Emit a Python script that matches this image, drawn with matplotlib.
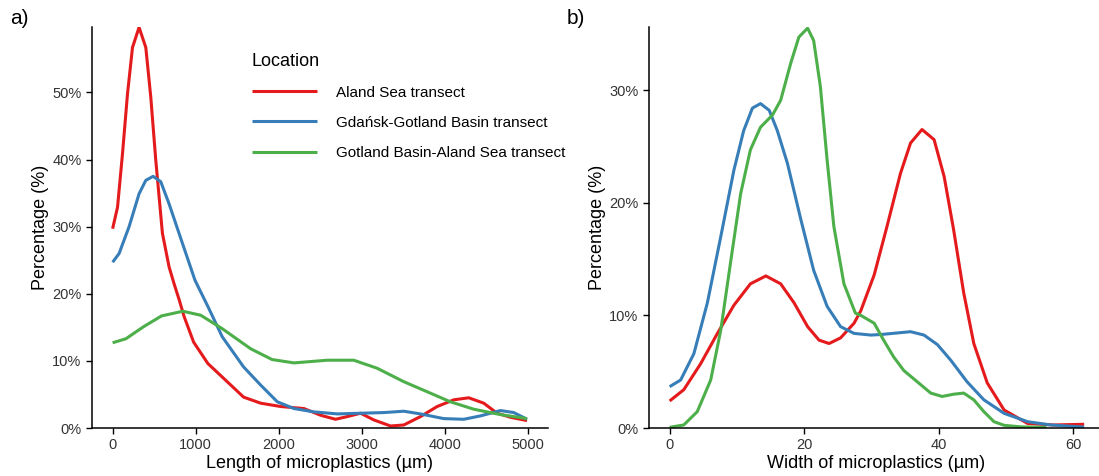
import matplotlib.pyplot as plt
from matplotlib.ticker import FuncFormatter

plt.rcParams['font.family'] = ['Liberation Sans', 'DejaVu Sans']

locations = ['Aland Sea transect', 'Gdańsk-Gotland Basin transect',
             'Gotland Basin-Aland Sea transect']
colors = ['#E41A1C', '#377EB8', '#4DAF4A']

# panel a) length (um) vs percentage
len_aland_x = [0, 59, 119, 179, 239, 318, 399, 459, 519, 599, 679, 739, 803, 860,
               974, 1146, 1318, 1575, 1780, 2021, 2301, 2501, 2681, 2822, 2982,
               3142, 3342, 3502, 3702, 3903, 4103, 4283, 4463, 4624, 4784, 4984]
len_aland_y = [29.7, 32.9, 40.9, 49.8, 56.7, 59.7, 56.7, 49.3, 39.9, 29.0, 24.0,
               21.5, 19.0, 16.6, 12.8, 9.6, 7.6, 4.6, 3.7, 3.2, 2.9, 1.9, 1.3, 1.7,
               2.2, 1.2, 0.3, 0.45, 1.7, 3.2, 4.2, 4.5, 3.7, 2.2, 1.6, 1.1]
len_gdansk_x = [0, 78, 198, 318, 399, 487, 579, 679, 799, 991, 1146, 1318, 1575,
                1780, 1981, 2181, 2421, 2702, 2982, 3262, 3502, 3702, 3982, 4223,
                4423, 4664, 4824, 4984]
len_gdansk_y = [24.7, 26.0, 30.0, 34.9, 36.9, 37.5, 36.7, 33.4, 29.0, 22.0, 18.1,
                13.6, 9.1, 6.4, 3.9, 2.9, 2.4, 2.1, 2.2, 2.3, 2.5, 2.1, 1.4, 1.3,
                1.8, 2.6, 2.3, 1.3]
len_gotland_x = [0, 160, 373, 588, 845, 1060, 1318, 1661, 1918, 2181, 2582, 2900,
                 3182, 3502, 3783, 4063, 4343, 4664, 4984]
len_gotland_y = [12.7, 13.3, 15.1, 16.7, 17.4, 16.8, 14.8, 11.8, 10.2, 9.7, 10.1,
                 10.1, 8.9, 6.9, 5.4, 3.9, 2.8, 2.0, 1.4]

# panel b) width (um) vs percentage
wid_aland_x = [0, 2.1, 4.6, 7.1, 9.55, 12.0, 14.3, 16.5, 18.5, 20.5, 22.2, 23.7,
               25.4, 27.4, 28.4, 30.4, 32.3, 34.3, 35.8, 37.5, 39.3, 40.8, 42.2,
               43.7, 45.2, 47.2, 49.7, 53.2, 57.1, 61.6]
wid_aland_y = [2.4, 3.4, 5.7, 8.4, 10.9, 12.8, 13.5, 12.8, 11.1, 9.0, 7.8, 7.5,
               8.0, 9.3, 10.4, 13.6, 17.9, 22.6, 25.3, 26.5, 25.6, 22.3, 17.6,
               12.0, 7.5, 4.0, 1.6, 0.4, 0.27, 0.33]
wid_gdansk_x = [0, 1.63, 3.6, 5.6, 7.6, 9.55, 11.0, 12.3, 13.5, 14.8, 16.0, 17.5,
                19.5, 21.4, 23.4, 25.4, 27.4, 29.9, 31.4, 35.8, 37.8, 39.8, 41.8,
                44.2, 46.7, 49.7, 53.2, 56.6, 61.6]
wid_gdansk_y = [3.67, 4.26, 6.6, 11.1, 17.0, 22.9, 26.4, 28.4, 28.8, 28.2, 26.4,
                23.5, 18.5, 14.0, 10.8, 9.0, 8.4, 8.25, 8.3, 8.55, 8.25, 7.4, 6.0,
                4.1, 2.5, 1.3, 0.56, 0.27, 0.08]
wid_gotland_x = [0, 2.1, 4.1, 6.1, 7.6, 9.1, 10.55, 12.0, 13.5, 15.3, 16.5, 18.0,
                 19.2, 20.5, 21.4, 22.4, 23.4, 24.4, 25.9, 27.6, 28.4, 30.4, 31.8,
                 33.3, 34.8, 36.8, 38.8, 40.5, 42.2, 43.7, 45.2, 46.7, 48.2, 49.7,
                 52.2, 56.0]
wid_gotland_y = [0.06, 0.27, 1.45, 4.26, 8.7, 14.9, 20.8, 24.7, 26.7, 27.8, 29.1,
                 32.4, 34.7, 35.5, 34.4, 30.3, 23.8, 17.9, 12.8, 10.2, 10.0, 9.3,
                 7.8, 6.3, 5.1, 4.1, 3.1, 2.8, 3.0, 3.1, 2.5, 1.45, 0.56, 0.24,
                 0.1, 0.05]

W, H = 1099, 476
fig = plt.figure(figsize=(W / 100, H / 100), dpi=100)


def px_axes(x0, x1, y_top, y_bot):
    return fig.add_axes([x0 / W, (H - y_bot) / H, (x1 - x0) / W, (y_bot - y_top) / H])


pct = FuncFormatter(lambda v, p: f'{v:.0f}%')


def style(ax):
    for s in ['top', 'right']:
        ax.spines[s].set_visible(False)
    for s in ['left', 'bottom']:
        ax.spines[s].set_linewidth(1.1)
    ax.tick_params(labelsize=10.5, labelcolor='#333333', length=4, width=1.0)
    ax.yaxis.set_major_formatter(pct)
    ax.set_ylabel('Percentage (%)', fontsize=13, labelpad=2.5)


ax1 = px_axes(92, 548, 27, 428)
series_a = [(len_aland_x, len_aland_y), (len_gdansk_x, len_gdansk_y),
            (len_gotland_x, len_gotland_y)]
for (x, y), c, lab in zip(series_a, colors, locations):
    ax1.plot(x, y, color=c, lw=2.2, label=lab, solid_joinstyle='round',
             solid_capstyle='butt')
ax1.set_xlim(-248, 5236)
ax1.set_ylim(0, 59.75)
ax1.set_xticks([0, 1000, 2000, 3000, 4000, 5000])
ax1.set_yticks([0, 10, 20, 30, 40, 50])
style(ax1)
ax1.set_xlabel('Length of microplastics (µm)', fontsize=13, labelpad=2)

leg = ax1.legend(loc='upper left', bbox_to_anchor=(238 / W, 1 - 39 / H),
                 bbox_transform=fig.transFigure, frameon=False, title='Location',
                 fontsize=11, title_fontsize=13, handlelength=4.3,
                 handletextpad=1.2, labelspacing=1.05, alignment='left')

ax2 = px_axes(649, 1103, 27, 428)
series_b = [(wid_aland_x, wid_aland_y), (wid_gdansk_x, wid_gdansk_y),
            (wid_gotland_x, wid_gotland_y)]
for (x, y), c in zip(series_b, colors):
    ax2.plot(x, y, color=c, lw=2.2, solid_joinstyle='round', solid_capstyle='butt')
ax2.set_xlim(-3.07, 64.4)
ax2.set_ylim(0, 35.6)
ax2.set_xticks([0, 20, 40, 60])
ax2.set_yticks([0, 10, 20, 30])
style(ax2)
ax2.set_xlabel('Width of microplastics (µm)', fontsize=13, labelpad=2)

fig.text(10 / W, 1 - 18 / H, 'a)', fontsize=15, va='center', ha='left')
fig.text(567 / W, 1 - 18 / H, 'b)', fontsize=15, va='center', ha='left')

fig.savefig('out.png', dpi=100)
